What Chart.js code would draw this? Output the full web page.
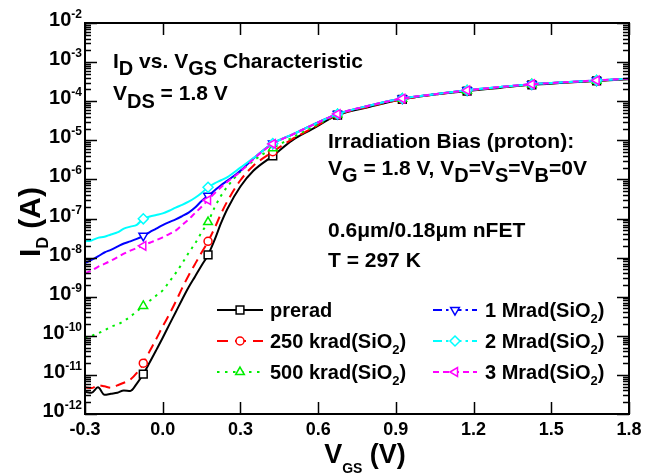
<!DOCTYPE html>
<html lang="en">
<head>
<meta charset="UTF-8">
<title>ID vs VGS</title>
<script src="https://cdn.jsdelivr.net/npm/chart.js@4.4.1/dist/chart.umd.min.js"></script>
<style>
	body,html{padding:0;margin:0;background:#fff;}
	#wrap{width:646px;height:476px;}
</style>
</head>
<body>
<div id="wrap"><canvas id="myChart" width="646" height="476"></canvas></div>
<script>
// gate voltage (V)
var vgs = [-0.3,-0.275,-0.25,-0.225,-0.2,-0.175,-0.15,-0.125,-0.1,-0.075,
	-0.05,-0.025,0,0.025,0.05,0.075,0.1,0.125,0.15,0.175,
	0.2,0.225,0.25,0.3,0.35,0.425,0.5,0.575,0.675,
	0.8,0.925,1.05,1.175,1.3,1.425,1.55,1.675,1.8];

// drain current (A)
var preRad = [3.7e-12,3.5e-12,4.8e-12,3.1e-12,3.3e-12,3.5e-12,4.0e-12,3.9e-12,6.0e-12,1.05e-11,
	2.1e-11,4.3e-11,8.9e-11,1.9e-10,4.0e-10,8.5e-10,1.74e-9,3.3e-9,6.3e-9,1.17e-8,
	2.8e-8,7.6e-8,1.78e-7,6.6e-7,1.66e-6,4.0e-6,1.0e-5,1.9e-5,4.4e-5,
	7.2e-5,1.12e-4,1.48e-4,1.82e-4,2.19e-4,2.63e-4,2.95e-4,3.3e-4,3.63e-4];
var k250 = [4.8e-12,4.6e-12,5.4e-12,5.1e-12,4.7e-12,5.4e-12,6.3e-12,7.6e-12,1.12e-11,2.0e-11,
	4.1e-11,8.3e-11,1.74e-10,3.5e-10,7.4e-10,1.66e-9,3.5e-9,6.9e-9,1.35e-8,2.6e-8,
	5.6e-8,1.32e-7,2.8e-7,9.5e-7,2.24e-6,5.1e-6,1.07e-5,2.0e-5,4.5e-5,
	7.4e-5,1.12e-4,1.48e-4,1.86e-4,2.24e-4,2.7e-4,3.0e-4,3.34e-4,3.7e-4];
var k500 = [8.7e-11,1.0e-10,1.15e-10,1.38e-10,1.7e-10,1.95e-10,2.4e-10,3.1e-10,4.2e-10,5.8e-10,
	7.9e-10,1.07e-9,1.45e-9,2.4e-9,4.0e-9,7.1e-9,1.32e-8,2.3e-8,4.4e-8,8.1e-8,
	1.9e-7,3.8e-7,6.6e-7,1.58e-6,3.0e-6,6.3e-6,1.17e-5,2.1e-5,4.6e-5,
	7.6e-5,1.15e-4,1.5e-4,1.86e-4,2.24e-4,2.7e-4,3.0e-4,3.35e-4,3.7e-4];
var m1 = [7.2e-9,8.7e-9,1.07e-8,1.35e-8,1.58e-8,1.9e-8,2.3e-8,2.6e-8,3.0e-8,3.6e-8,
	4.5e-8,5.5e-8,6.8e-8,8.1e-8,9.5e-8,1.15e-7,1.41e-7,1.9e-7,2.8e-7,3.8e-7,
	5.2e-7,7.1e-7,9.3e-7,1.66e-6,3.4e-6,8.3e-6,1.4e-5,2.4e-5,4.7e-5,
	7.8e-5,1.17e-4,1.51e-4,1.9e-4,2.3e-4,2.72e-4,3.05e-4,3.4e-4,3.76e-4];
var m2 = [2.6e-8,2.75e-8,3.2e-8,3.4e-8,3.9e-8,4.4e-8,5.5e-8,6.2e-8,6.9e-8,9.8e-8,
	1.12e-7,1.23e-7,1.35e-7,1.58e-7,1.9e-7,2.24e-7,2.7e-7,3.4e-7,4.5e-7,6.3e-7,
	7.9e-7,9.5e-7,1.15e-6,2.0e-6,3.5e-6,8.3e-6,1.41e-5,2.4e-5,4.7e-5,
	7.8e-5,1.17e-4,1.51e-4,1.9e-4,2.3e-4,2.72e-4,3.05e-4,3.4e-4,3.76e-4];
var m3 = [4.0e-9,4.6e-9,5.8e-9,6.9e-9,8.3e-9,1.02e-8,1.26e-8,1.51e-8,1.74e-8,2.0e-8,
	2.4e-8,2.8e-8,3.3e-8,4.0e-8,4.9e-8,6.8e-8,9.5e-8,1.38e-7,2.0e-7,2.95e-7,
	4.4e-7,6.3e-7,8.7e-7,1.58e-6,3.3e-6,8.1e-6,1.4e-5,2.4e-5,4.7e-5,
	7.8e-5,1.17e-4,1.51e-4,1.9e-4,2.3e-4,2.72e-4,3.05e-4,3.4e-4,3.76e-4];

// voltages where a symbol is drawn
var markerAt = [-0.075,0.175,0.425,0.675,0.925,1.175,1.425,1.675];
var xTicks = [-0.3,0,0.3,0.6,0.9,1.2,1.5,1.8];
var xTickLabels = ['-0.3','0.0','0.3','0.6','0.9','1.2','1.5','1.8'];
var decades = [-12,-11,-10,-9,-8,-7,-6,-5,-4,-3,-2];

var FAM = '"Liberation Sans", Arial, sans-serif';
function B(n){ return 'bold ' + n + 'px ' + FAM; }

function pts(arr){
	return vgs.map(function(v,i){ return {x:v, y:arr[i]}; });
}
function markR(r){
	return function(c){ return markerAt.indexOf(vgs[c.dataIndex]) >= 0 ? r : 0; };
}

var series = [
	{name:'prerad', data:preRad, color:'#000000', dash:[], lgDash:[], shape:'rect', rot:0, r:5.5, col:0, row:0, order:6},
	{name:'250 krad(SiO', data:k250, color:'#ff0000', dash:[10,6], lgDash:[11,7], shape:'circle', rot:0, r:4, col:0, row:1, order:5},
	{name:'500 krad(SiO', data:k500, color:'#00ee00', dash:[2.5,5], lgDash:[2.5,5.5], shape:'triangle', rot:0, r:5, col:0, row:2, order:4},
	{name:'1 Mrad(SiO', data:m1, color:'#0000ff', dash:[], lgDash:[9,4,2.5,4], shape:'triangle', rot:180, r:5, col:1, row:0, order:3},
	{name:'2 Mrad(SiO', data:m2, color:'#00ffff', dash:[], lgDash:[9,4,2.5,4], shape:'rectRot', rot:0, r:5, col:1, row:1, order:2},
	{name:'3 Mrad(SiO', data:m3, color:'#ff00ff', dash:[6,4], lgDash:[6,4], shape:'triangle', rot:270, r:5, col:1, row:2, order:1}
];

function rich(ctx, x, y, parts){
	parts.forEach(function(p){
		ctx.font = p[1];
		ctx.fillText(p[0], x, y + (p[2] || 0));
		x += ctx.measureText(p[0]).width;
	});
	return x;
}
function richWidth(ctx, parts){
	var w = 0;
	parts.forEach(function(p){ ctx.font = p[1]; w += ctx.measureText(p[0]).width; });
	return w;
}

function marker(ctx, s, x, y){
	var r = s.r;
	ctx.save();
	ctx.translate(x, y);
	ctx.rotate(s.rot * Math.PI / 180);
	ctx.setLineDash([]);
	ctx.beginPath();
	if(s.shape === 'rect'){
		var h = r * Math.SQRT1_2;
		ctx.rect(-h, -h, 2*h, 2*h);
	}else if(s.shape === 'circle'){
		ctx.arc(0, 0, r, 0, Math.PI*2);
	}else if(s.shape === 'rectRot'){
		ctx.moveTo(0,-r); ctx.lineTo(r,0); ctx.lineTo(0,r); ctx.lineTo(-r,0); ctx.closePath();
	}else{
		var a = 0;
		ctx.moveTo(Math.sin(a)*r, -Math.cos(a)*r);
		a += Math.PI*2/3; ctx.lineTo(Math.sin(a)*r, -Math.cos(a)*r);
		a += Math.PI*2/3; ctx.lineTo(Math.sin(a)*r, -Math.cos(a)*r);
		ctx.closePath();
	}
	ctx.fillStyle = '#fff';
	ctx.fill();
	ctx.strokeStyle = s.color;
	ctx.lineWidth = 1.5;
	ctx.stroke();
	ctx.restore();
}

var decor = {
	id:'decor',
	afterDraw:function(chart){
		var ctx = chart.ctx, a = chart.chartArea;
		var xs = chart.scales.x, ys = chart.scales.y;
		ctx.save();
		ctx.fillStyle = '#000';
		ctx.strokeStyle = '#000';
		ctx.setLineDash([]);

		// ticks
		ctx.lineWidth = 1.5;
		ctx.beginPath();
		xTicks.forEach(function(v){
			var px = Math.round(xs.getPixelForValue(v)) + 0.5;
			ctx.moveTo(px, a.bottom); ctx.lineTo(px, a.bottom - 12);
			ctx.moveTo(px, a.top); ctx.lineTo(px, a.top + 12);
		});
		decades.forEach(function(e){
			for(var m = 1; m <= 9; m++){
				if(e === -2 && m > 1) break;
				var py = Math.round(ys.getPixelForValue(m * Math.pow(10, e))) + 0.5;
				var len = m === 1 ? 12 : 6;
				ctx.moveTo(a.left, py); ctx.lineTo(a.left + len, py);
				ctx.moveTo(a.right, py); ctx.lineTo(a.right - len, py);
			}
		});
		ctx.stroke();

		// frame
		ctx.lineWidth = 2;
		ctx.strokeRect(a.left, a.top, a.right - a.left, a.bottom - a.top);

		// x tick labels
		ctx.font = B(18);
		ctx.textAlign = 'center';
		ctx.textBaseline = 'alphabetic';
		xTicks.forEach(function(v, i){
			ctx.fillText(xTickLabels[i], xs.getPixelForValue(v), 435);
		});

		// y tick labels 10^n
		ctx.textAlign = 'left';
		decades.forEach(function(e){
			var py = ys.getPixelForValue(Math.pow(10, e));
			var parts = [['10', B(20)], [String(e), B(12), -8]];
			var w = richWidth(ctx, parts);
			rich(ctx, 82 - w, py + 3, parts);
		});

		// axis titles
		var xt = [['V', B(27)], ['GS', B(14), 10], [' (V)', B(27)]];
		rich(ctx, 365 - richWidth(ctx, xt) / 2, 463, xt);
		var yt = [['I', B(30)], ['D', B(16), 8], [' (A)', B(30)]];
		var yw = richWidth(ctx, yt);
		ctx.save();
		ctx.translate(40, 222 + yw / 2);
		ctx.rotate(-Math.PI / 2);
		rich(ctx, 0, 0, yt);
		ctx.restore();

		// annotations
		rich(ctx, 113, 68, [['I', B(21)], ['D', B(20), 7], [' vs. V', B(21)], ['GS', B(20), 7], [' Characteristic', B(21)]]);
		rich(ctx, 113, 100, [['V', B(21)], ['DS', B(20), 8], [' = 1.8 V', B(21)]]);
		rich(ctx, 328, 148, [['Irradiation Bias (proton):', B(21)]]);
		rich(ctx, 328, 175, [['V', B(21)], ['G', B(20), 7], [' = 1.8 V, V', B(21)], ['D', B(20), 7], ['=V', B(21)],
			['S', B(20), 7], ['=V', B(21)], ['B', B(20), 7], ['=0V', B(21)]]);
		rich(ctx, 328, 237, [['0.6\u03bcm/0.18\u03bcm nFET', B(21)]]);
		rich(ctx, 328, 267, [['T = 297 K', B(21)]]);

		// legend
		var rowsY = [310, 341, 372];
		var cols = [{x0:217, x1:263, mx:240, tx:270}, {x0:433, x1:477, mx:455, tx:485}];
		series.forEach(function(s){
			var c = cols[s.col], y = rowsY[s.row];
			ctx.save();
			ctx.strokeStyle = s.color;
			ctx.lineWidth = 2;
			ctx.setLineDash(s.lgDash);
			ctx.beginPath();
			ctx.moveTo(c.x0, y); ctx.lineTo(c.x1, y);
			ctx.stroke();
			ctx.restore();
			marker(ctx, s, c.mx, y);
			ctx.fillStyle = '#000';
			if(s.name === 'prerad'){
				rich(ctx, c.tx, y + 7, [[s.name, B(20)]]);
			}else{
				rich(ctx, c.tx, y + 7, [[s.name, B(20)], ['2', B(13), 6], [')', B(20)]]);
			}
		});
		ctx.restore();
	}
};

var ctx = document.getElementById('myChart').getContext('2d');
var chart = new Chart(ctx, {
	type:'line',
	data:{
		datasets: series.map(function(s){
			return {
				label: s.name,
				data: pts(s.data),
				borderColor: s.color,
				borderWidth: 2,
				borderDash: s.dash,
				backgroundColor: '#ffffff',
				fill: false,
				cubicInterpolationMode: 'monotone',
				pointStyle: s.shape,
				rotation: s.rot,
				pointRadius: markR(s.r),
				pointBorderColor: s.color,
				pointBackgroundColor: '#ffffff',
				pointBorderWidth: 1.5,
				order: s.order
			};
		})
	},
	options:{
		responsive:false,
		animation:false,
		devicePixelRatio:1,
		layout:{padding:{left:85, top:23, right:17, bottom:62}},
		plugins:{legend:{display:false}, tooltip:{enabled:false}},
		scales:{
			x:{type:'linear', min:-0.3, max:1.8, display:false},
			y:{type:'logarithmic', min:1e-12, max:1e-2, display:false}
		}
	},
	plugins:[decor]
});
</script>
</body>
</html>
